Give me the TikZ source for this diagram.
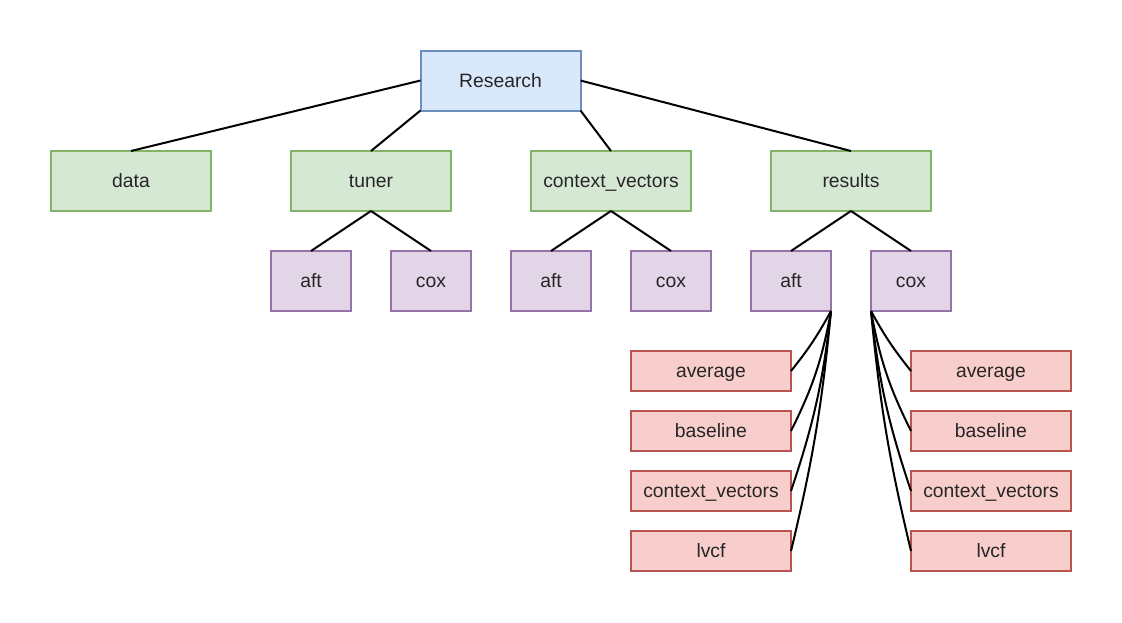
\documentclass[tikz,border=0pt]{standalone}
\usepackage{fontspec}
\setmainfont{Liberation Sans}
\usepackage{tikz}
\usetikzlibrary{positioning}

\definecolor{blueF}{HTML}{DAE8FC}\definecolor{blueD}{HTML}{6C8EBF}
\definecolor{greenF}{HTML}{D5E8D4}\definecolor{greenD}{HTML}{82B366}
\definecolor{purpleF}{HTML}{E1D5E7}\definecolor{purpleD}{HTML}{9673A6}
\definecolor{redF}{HTML}{F8CECC}\definecolor{redD}{HTML}{B85450}

\begin{document}
\begin{tikzpicture}[x=0.75pt,y=-0.75pt,line width=1.5pt,
                    font=\fontsize{14.5}{17}\selectfont,
                    text height=10.4pt,text depth=0pt]

  \tikzstyle{box}    = [draw,rectangle,inner sep=0pt,outer sep=0pt,align=center,text=black!85]
  \tikzstyle{root}   = [box,fill=blueF,draw=blueD,minimum width=120pt,minimum height=45pt]
  \tikzstyle{folder} = [box,fill=greenF,draw=greenD,minimum width=120pt,minimum height=45pt]
  \tikzstyle{model}  = [box,fill=purpleF,draw=purpleD,minimum width=60pt,minimum height=45pt]
  \tikzstyle{file}   = [box,fill=redF,draw=redD,minimum width=120pt,minimum height=30pt]

  \useasboundingbox (0,0) rectangle (1122,622);

  \node[root]   (R)  at (500.5,80.5)      {Research};
  \node[folder] (D)  at (131,181)         {data};
  \node[folder] (T)  [right=60pt of D]    {tuner};
  \node[folder] (C)  [right=60pt of T]    {context\_vectors};
  \node[folder] (S)  [right=60pt of C]    {results};

  \node[model]  (TA) [below=30pt of T,xshift=-45pt] {aft};
  \node[model]  (TC) [below=30pt of T,xshift=45pt]  {cox};
  \node[model]  (CA) [below=30pt of C,xshift=-45pt] {aft};
  \node[model]  (CC) [below=30pt of C,xshift=45pt]  {cox};
  \node[model]  (SA) [below=30pt of S,xshift=-45pt] {aft};
  \node[model]  (SC) [below=30pt of S,xshift=45pt]  {cox};

  \node[file]   (A1) [below=30pt of SA,xshift=-60pt] {average};
  \node[file]   (A2) [below=15pt of A1]              {baseline};
  \node[file]   (A3) [below=15pt of A2]              {context\_vectors};
  \node[file]   (A4) [below=15pt of A3]              {lvcf};
  \node[file]   (B1) [below=30pt of SC,xshift=60pt]  {average};
  \node[file]   (B2) [below=15pt of B1]              {baseline};
  \node[file]   (B3) [below=15pt of B2]              {context\_vectors};
  \node[file]   (B4) [below=15pt of B3]              {lvcf};

  \path (R.west)       edge (D.north)
        (R.south west) edge (T.north)
        (R.south east) edge (C.north)
        (R.east)       edge (S.north)
        (T.south) edge (TA.north)
        (T.south) edge (TC.north)
        (C.south) edge (CA.north)
        (C.south) edge (CC.north)
        (S.south) edge (SA.north)
        (S.south) edge (SC.north);

  \path (SA.south east) edge [bend left=5]  (A1.east)
        (SA.south east) edge [bend left=8]  (A2.east)
        (SA.south east) edge [bend left=6]  (A3.east)
        (SA.south east) edge [bend left=4]  (A4.east)
        (SC.south west) edge [bend right=5] (B1.west)
        (SC.south west) edge [bend right=8] (B2.west)
        (SC.south west) edge [bend right=6] (B3.west)
        (SC.south west) edge [bend right=4] (B4.west);

\end{tikzpicture}
\end{document}
